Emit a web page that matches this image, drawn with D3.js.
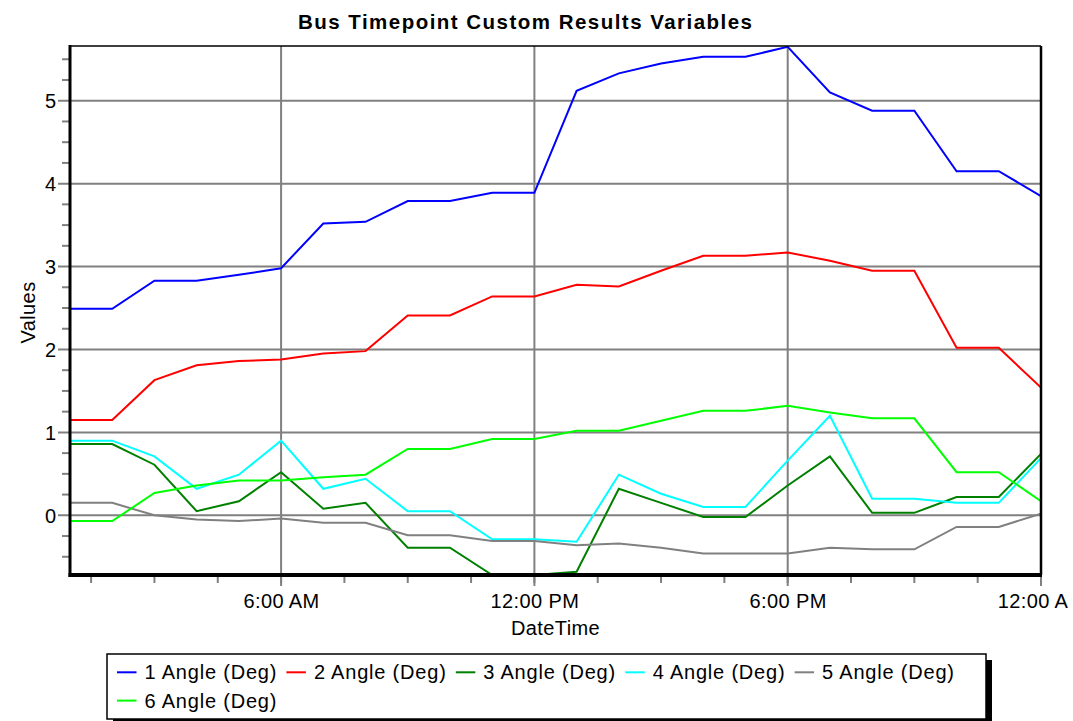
<!DOCTYPE html>
<html><head><meta charset="utf-8">
<script src="https://cdn.jsdelivr.net/npm/d3@7"></script>
<style>
html,body{margin:0;padding:0;background:#fff;}
svg{display:block;font-family:"Liberation Sans",Arial,sans-serif;}
</style></head><body>
<svg id="chart" width="1073" height="721"></svg>
<script>
// ---- data ----
const hours = [1,2,3,4,5,6,7,8,9,10,11,12,13,14,15,16,17,18,19,20,21,22,23,24];
const seriesNames = ["1 Angle (Deg)","2 Angle (Deg)","3 Angle (Deg)","4 Angle (Deg)","5 Angle (Deg)","6 Angle (Deg)"];
const angle1 = [2.49,2.49,2.83,2.83,2.90,2.98,3.52,3.54,3.79,3.79,3.89,3.89,5.12,5.33,5.45,5.53,5.53,5.65,5.10,4.88,4.88,4.15,4.15,3.85];
const angle2 = [1.15,1.15,1.63,1.81,1.86,1.88,1.95,1.98,2.41,2.41,2.64,2.64,2.78,2.76,2.95,3.13,3.13,3.17,3.07,2.95,2.95,2.02,2.02,1.54];
const angle3 = [0.86,0.86,0.61,0.05,0.17,0.52,0.08,0.15,-0.39,-0.39,-0.72,-0.72,-0.68,0.32,0.15,-0.02,-0.02,0.36,0.71,0.03,0.03,0.22,0.22,0.74];
const angle4 = [0.90,0.90,0.71,0.32,0.49,0.90,0.32,0.44,0.05,0.05,-0.29,-0.29,-0.32,0.49,0.26,0.10,0.10,0.66,1.20,0.20,0.20,0.15,0.15,0.69];
const angle5 = [0.15,0.15,0.00,-0.05,-0.07,-0.04,-0.09,-0.09,-0.24,-0.24,-0.31,-0.31,-0.36,-0.34,-0.39,-0.46,-0.46,-0.46,-0.39,-0.41,-0.41,-0.14,-0.14,0.02];
const angle6 = [-0.07,-0.07,0.27,0.36,0.42,0.42,0.46,0.49,0.80,0.80,0.92,0.92,1.02,1.02,1.14,1.26,1.26,1.32,1.24,1.17,1.17,0.52,0.52,0.17];
const yTickValues = [0,1,2,3,4,5];
const seriesColors = ["#0000ff","#ff0000","#008000","#00ffff","#808080","#00ff00"];
const seriesValues = [angle1,angle2,angle3,angle4,angle5,angle6];

// ---- layout ----
const L = 70, R = 1041, T = 46, B = 575, PAGE_W = 1073;
const svg = d3.select("#chart");
const toDate = h => new Date(2000,0,1,h);
const x = d3.scaleTime().domain([toDate(1), toDate(24)]).range([L, R]);
const y = d3.scaleLinear().domain([-0.72, 5.66]).range([B, T]);
const grid = "#808080";

const defs = svg.append("defs");
defs.append("clipPath").attr("id","plotclip").append("rect")
  .attr("x",L).attr("y",T).attr("width",R-L).attr("height",B-T);

// title
svg.append("text").attr("x",298).attr("y",28.5)
  .attr("font-size",20.5).attr("font-weight","bold")
  .attr("textLength",454).attr("lengthAdjust","spacing")
  .text("Bus Timepoint Custom Results Variables");

// minor y ticks
const yMinor = d3.range(-0.5, 5.6, 0.25).filter(v => Math.abs(v - Math.round(v)) > 1e-6);
svg.append("g").selectAll("line").data(yMinor).join("line")
  .attr("x1",62).attr("x2",L).attr("y1",d=>y(d)).attr("y2",d=>y(d))
  .attr("stroke",grid).attr("stroke-width",2);

// minor x ticks (every 90 minutes)
const xMinor = d3.range(3, 48, 3).map(hh => new Date(2000,0,1,0,hh*30));
svg.append("g").selectAll("line").data(xMinor).join("line")
  .attr("x1",d=>x(d)).attr("x2",d=>x(d)).attr("y1",B).attr("y2",583)
  .attr("stroke",grid).attr("stroke-width",2);

// horizontal grid
svg.append("g").selectAll("line").data(yTickValues).join("line")
  .attr("x1",58).attr("x2",R).attr("y1",d=>y(d)).attr("y2",d=>y(d))
  .attr("stroke",grid).attr("stroke-width",2);

// vertical grid
const xMajor = x.ticks(d3.timeHour.every(6));
svg.append("g").selectAll("line").data(xMajor).join("line")
  .attr("x1",d=>x(d)).attr("x2",d=>x(d)).attr("y1",T).attr("y2",586)
  .attr("stroke",grid).attr("stroke-width",2);

// series lines
const line = d3.line().x((d,i)=>x(toDate(hours[i]))).y(d=>y(d));
const plot = svg.append("g").attr("clip-path","url(#plotclip)");
seriesValues.forEach((vals,k) => {
  plot.append("path").datum(vals).attr("d",line)
    .attr("fill","none").attr("stroke",seriesColors[k]).attr("stroke-width",2)
    .attr("stroke-linejoin","miter");
});

// frame
svg.append("line").attr("x1",L).attr("x2",R).attr("y1",T).attr("y2",T).attr("stroke","#000").attr("stroke-width",1.5);
svg.append("line").attr("x1",R).attr("x2",R).attr("y1",T).attr("y2",B).attr("stroke","#000").attr("stroke-width",2.5);
svg.append("line").attr("x1",L).attr("x2",L).attr("y1",T-1).attr("y2",B+2).attr("stroke","#000").attr("stroke-width",3);
svg.append("line").attr("x1",L-1.5).attr("x2",R+1).attr("y1",B).attr("y2",B).attr("stroke","#000").attr("stroke-width",4);

// y axis labels
const yAxis = svg.append("g").attr("transform",`translate(${L},0)`)
  .call(d3.axisLeft(y).tickValues(yTickValues).tickSize(0).tickPadding(14).tickFormat(d3.format("d")));
yAxis.select(".domain").remove();
yAxis.selectAll("text").attr("font-size",20).attr("font-family","Liberation Sans, Arial, sans-serif").attr("fill","#000").attr("dy","0.35em");

// x axis labels (a label that would run past the page edge is truncated, as in the original control)
const fmt = d3.timeFormat("%-I:%M %p");
const xAxis = svg.append("g").attr("transform",`translate(0,${B})`)
  .call(d3.axisBottom(x).tickValues(xMajor).tickSize(0).tickFormat(fmt));
xAxis.select(".domain").remove();
xAxis.selectAll("text").attr("font-size",20).attr("font-family","Liberation Sans, Arial, sans-serif")
  .attr("fill","#000").attr("y",33).attr("dy",0).attr("letter-spacing",0.4)
  .each(function(){
    const t = d3.select(this);
    let s = t.text();
    const box = () => this.getBBox();
    const cx = +t.node().parentNode.getAttribute("transform").match(/translate\(([-\d.]+)/)[1];
    const fullW = box().width;
    const left = cx - fullW/2;
    if (left + fullW > PAGE_W - 4) {
      t.attr("text-anchor","start").attr("x", -fullW/2);
      while (s.length > 1 && left + this.getComputedTextLength() > PAGE_W - 4) {
        s = s.slice(0,-1).trimEnd();
        t.text(s);
      }
    }
  });

// axis titles
svg.append("text").attr("x",(L+R)/2).attr("y",635).attr("text-anchor","middle").attr("font-size",20).attr("letter-spacing",0.4).text("DateTime");
svg.append("text").attr("transform",`translate(35,${(T+B)/2+2}) rotate(-90)`).attr("text-anchor","middle").attr("font-size",20).attr("letter-spacing",0.4).text("Values");

// legend
svg.append("rect").attr("x",113).attr("y",660).attr("width",879).attr("height",65).attr("fill","#000");
svg.append("rect").attr("x",107).attr("y",654).attr("width",879).attr("height",65).attr("fill","#fff").attr("stroke","#000").attr("stroke-width",1.5);
const perRow = 5, colW = 169.4, rowH = 28.3;
const items = svg.append("g").selectAll("g").data(seriesNames).join("g")
  .attr("transform",(d,i)=>`translate(${117 + (i%perRow)*colW},${672.3 + Math.floor(i/perRow)*rowH})`);
items.append("line").attr("x1",0).attr("x2",19.5).attr("y1",0).attr("y2",0)
  .attr("stroke",(d,i)=>seriesColors[i]).attr("stroke-width",2);
items.append("text").attr("x",27.5).attr("y",7).attr("font-size",20).attr("letter-spacing",0.8).text(d=>d);
</script>
</body></html>
